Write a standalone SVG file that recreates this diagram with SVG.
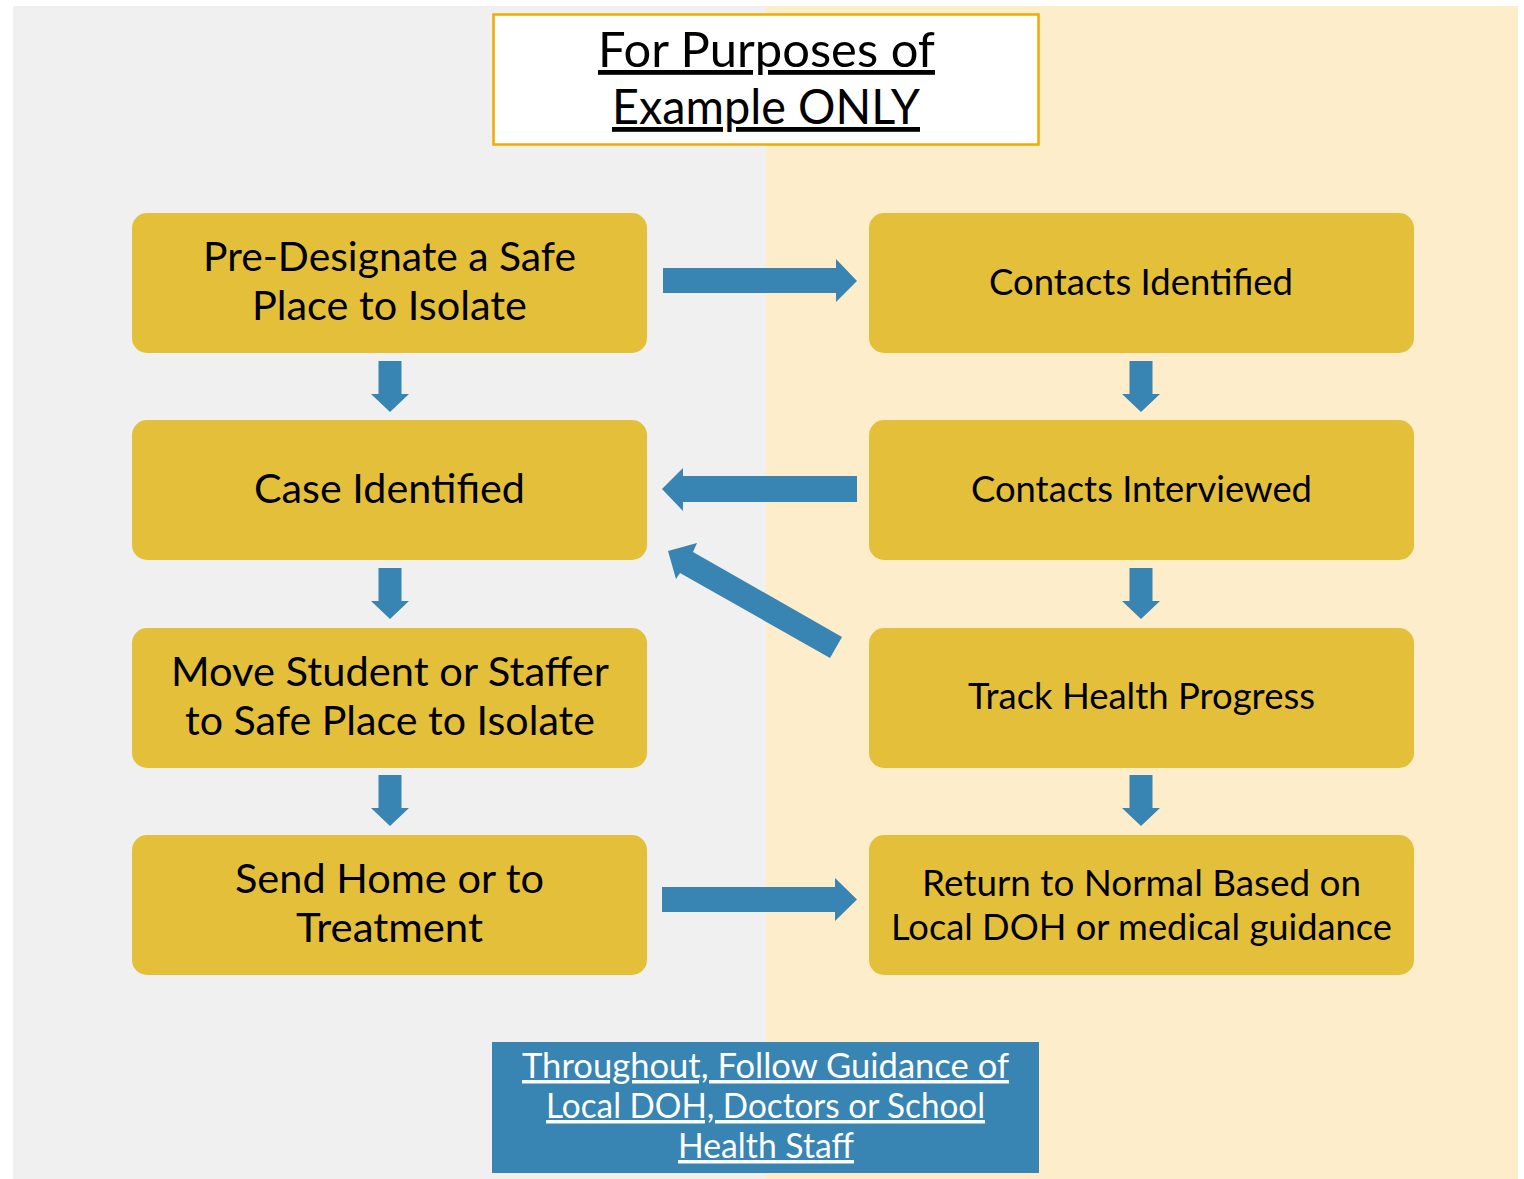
<svg xmlns="http://www.w3.org/2000/svg" width="1524" height="1179" viewBox="0 0 1524 1179">
<style>
.bg{fill:#ffffff}
.box{fill:#E4C03A}
.t{font-family:Lato,"Open Sans","Liberation Sans",sans-serif;fill:#000;text-anchor:middle}
.tl{font-size:41px}
.tr{font-size:36px}
.title{font-size:48px;text-decoration:underline}
.foot{font-size:35px;fill:#fff;text-decoration:underline}
.arr{fill:#3884B2}
</style>
<defs>
<polygon id="down" points="-11.5,0 11.5,0 11.5,33 19,33 0,51 -19,33 -11.5,33"/>
</defs>
<rect class="bg" x="0" y="0" width="1524" height="1179"/>
<rect x="13" y="6" width="753" height="1173" fill="#F0F0F0"/>
<rect x="766" y="6" width="752" height="1173" fill="#FEEDCA"/>

<g id="title">
<rect x="493.5" y="14.5" width="545" height="130" fill="#fff" stroke="#F4A900" stroke-width="2.5"/>
<text class="t title" x="766.5" y="67" textLength="337" lengthAdjust="spacingAndGlyphs">For Purposes of</text>
<text class="t title" x="766" y="124" textLength="308" lengthAdjust="spacingAndGlyphs">Example ONLY</text>
</g>

<g id="n1">
<rect class="box" x="132" y="213" width="515" height="140" rx="15"/>
<text class="t tl" x="389.5" y="271" textLength="373" lengthAdjust="spacingAndGlyphs">Pre-Designate a Safe</text>
<text class="t tl" x="389.5" y="320" textLength="275" lengthAdjust="spacingAndGlyphs">Place to Isolate</text>
</g>
<g id="n2">
<rect class="box" x="132" y="420" width="515" height="140" rx="15"/>
<text class="t tl" x="389.5" y="503" textLength="271" lengthAdjust="spacingAndGlyphs">Case Identified</text>
</g>
<g id="n3">
<rect class="box" x="132" y="628" width="515" height="140" rx="15"/>
<text class="t tl" x="390" y="686" textLength="438" lengthAdjust="spacingAndGlyphs">Move Student or Staffer</text>
<text class="t tl" x="390" y="735" textLength="410" lengthAdjust="spacingAndGlyphs">to Safe Place to Isolate</text>
</g>
<g id="n4">
<rect class="box" x="132" y="835" width="515" height="140" rx="15"/>
<text class="t tl" x="389.5" y="893" textLength="309" lengthAdjust="spacingAndGlyphs">Send Home or to</text>
<text class="t tl" x="389.5" y="942" textLength="187" lengthAdjust="spacingAndGlyphs">Treatment</text>
</g>
<g id="n5">
<rect class="box" x="869" y="213" width="545" height="140" rx="15"/>
<text class="t tr" x="1141" y="295" textLength="304" lengthAdjust="spacingAndGlyphs">Contacts Identified</text>
</g>
<g id="n6">
<rect class="box" x="869" y="420" width="545" height="140" rx="15"/>
<text class="t tr" x="1141.5" y="502" textLength="341" lengthAdjust="spacingAndGlyphs">Contacts Interviewed</text>
</g>
<g id="n7">
<rect class="box" x="869" y="628" width="545" height="140" rx="15"/>
<text class="t tr" x="1141.5" y="709" textLength="347" lengthAdjust="spacingAndGlyphs">Track Health Progress</text>
</g>
<g id="n8">
<rect class="box" x="869" y="835" width="545" height="140" rx="15"/>
<text class="t tr" x="1141.5" y="896" textLength="439" lengthAdjust="spacingAndGlyphs">Return to Normal Based on</text>
<text class="t tr" x="1141.5" y="940" textLength="501" lengthAdjust="spacingAndGlyphs">Local DOH or medical guidance</text>
</g>

<g id="footer">
<rect x="492" y="1042" width="547" height="131" fill="#3884B2"/>
<text class="t foot" x="765.5" y="1078" textLength="487" lengthAdjust="spacingAndGlyphs">Throughout, Follow Guidance of</text>
<text class="t foot" x="765.5" y="1118" textLength="439" lengthAdjust="spacingAndGlyphs">Local DOH, Doctors or School</text>
<text class="t foot" x="766" y="1158" textLength="176" lengthAdjust="spacingAndGlyphs">Health Staff</text>
</g>

<g id="connectors" class="arr">
<use href="#down" x="390" y="361"/>
<use href="#down" x="390" y="568"/>
<use href="#down" x="390" y="775"/>
<use href="#down" x="1141" y="361"/>
<use href="#down" x="1141" y="568"/>
<use href="#down" x="1141" y="775"/>
<path d="M663,268 H836 V259 L857,281 L836,302 V293 H663 Z"/>
<path d="M662,887 H835 V878 L857,899.5 L835,921 V912 H662 Z"/>
<path d="M857,476 H683 V468 L662,489 L683,511 V502 H857 Z"/>
<polygon points="668,551 697,543 693,552 842,637 830,658 680,573 676,579"/>
</g>
</svg>
